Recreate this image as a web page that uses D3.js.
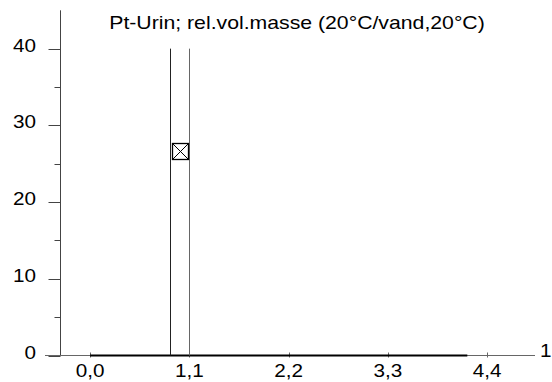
<!DOCTYPE html>
<html>
<head>
<meta charset="utf-8">
<script src="https://cdn.jsdelivr.net/npm/d3@7/dist/d3.min.js"></script>
<style>
html,body{margin:0;padding:0;background:#fff;}
text{font-family:"Liberation Sans",Arial,sans-serif;fill:#000;}
</style>
</head>
<body>
<svg id="c" width="552" height="382"></svg>
<script>
const titleText = "Pt-Urin; rel.vol.masse (20°C/vand,20°C)";
const xTickValues = [0, 1.1, 2.2, 3.3, 4.4];
const xTickLabels = ["0,0", "1,1", "2,2", "3,3", "4,4"];
const yTickValues = [0, 10, 20, 30, 40];
const yMinorValues = [5, 15, 25, 35];
const pointX = [1.0];
const pointY = [26.6];
const limitX = [0.88, 1.1];
const limitY = [0, 40];
const baseX = [0, 4.18];
const baseY = [0, 0];
const rightLabel = "1";

const svg = d3.select("#c");
const x = d3.scaleLinear().domain([-0.5, 4.93]).range([45, 535]);
const y = d3.scaleLinear().domain([0, 45]).range([355.5, 10.3]);
const axisX = 60.5;
const axisY = 355.5;
const sx = 1.15;

// y axis
svg.append("line").attr("x1", axisX).attr("x2", axisX).attr("y1", y(45)).attr("y2", axisY)
  .attr("stroke", "#444").attr("stroke-width", 1);
svg.selectAll(".ymaj").data(yTickValues).join("line")
  .attr("x1", axisX - 12).attr("x2", axisX)
  .attr("y1", d => Math.round(y(d)) + 0.5).attr("y2", d => Math.round(y(d)) + 0.5)
  .attr("stroke", "#444");
svg.selectAll(".ymin").data(yMinorValues).join("line")
  .attr("x1", axisX - 6).attr("x2", axisX)
  .attr("y1", d => Math.round(y(d)) + 0.5).attr("y2", d => Math.round(y(d)) + 0.5)
  .attr("stroke", "#444");
svg.selectAll(".ylab").data(yTickValues).join("text")
  .attr("text-anchor", "end")
  .attr("font-size", 18)
  .attr("transform", d => `translate(36,${y(d) + 3}) scale(${sx},1)`)
  .text(d => d);

// x axis
svg.append("line").attr("x1", x(-0.5)).attr("x2", x(4.93)).attr("y1", axisY).attr("y2", axisY)
  .attr("stroke", "#666").attr("stroke-width", 1);
svg.selectAll(".xt").data(xTickValues).join("line")
  .attr("x1", d => Math.round(x(d)) + 0.5).attr("x2", d => Math.round(x(d)) + 0.5)
  .attr("y1", axisY - 3).attr("y2", axisY + 2)
  .attr("stroke", "#666");
svg.selectAll(".xlab").data(xTickValues).join("text")
  .attr("text-anchor", "middle")
  .attr("font-size", 18)
  .attr("transform", (d, i) => `translate(${x(d)},377) scale(${sx},1)`)
  .text((d, i) => xTickLabels[i]);

// thick baseline series
svg.append("path")
  .attr("d", d3.line().x(d => x(d[0])).y(d => y(d[1]))(baseX.map((v, i) => [v, baseY[i]])))
  .attr("stroke", "#000").attr("stroke-width", 2).attr("fill", "none");

// limit lines
const limColors = ["#222", "#666"];
svg.selectAll(".lim").data(limitX).join("line")
  .attr("x1", d => Math.round(x(d)) + 0.5).attr("x2", d => Math.round(x(d)) + 0.5)
  .attr("y1", y(limitY[1])).attr("y2", y(limitY[0]))
  .attr("stroke", (d, i) => limColors[i]).attr("stroke-width", 1);

// point marker: box with X
const pts = pointX.map((v, i) => [v, pointY[i]]);
const g = svg.selectAll(".pt").data(pts).join("g")
  .attr("transform", d => `translate(${Math.round(x(d[0])) + 0.5},${Math.round(y(d[1])) + 0.5})`);
const h = 8;
g.append("rect").attr("x", -h).attr("y", -h).attr("width", 2 * h).attr("height", 2 * h)
  .attr("fill", "#fff").attr("stroke", "#000").attr("stroke-width", 1.3);
g.append("line").attr("x1", -h).attr("y1", -h).attr("x2", h).attr("y2", h).attr("stroke", "#000");
g.append("line").attr("x1", -h).attr("y1", h).attr("x2", h).attr("y2", -h).attr("stroke", "#000");

// title
svg.append("text").attr("text-anchor", "middle").attr("font-size", 18)
  .attr("transform", `translate(297,28.5) scale(1.18,1)`)
  .text(titleText);

// right label
svg.append("text").attr("font-size", 18)
  .attr("transform", `translate(540,357) scale(${sx},1)`)
  .text(rightLabel);
</script>
</body>
</html>
